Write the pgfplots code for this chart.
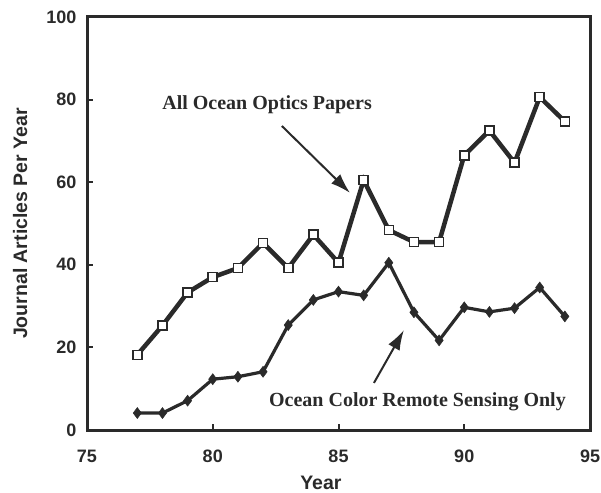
\documentclass[border=0pt]{standalone}
\usepackage{fontspec}
\setmainfont{Liberation Serif}
\setsansfont{Liberation Sans}
\usepackage{pgfplots}
\pgfplotsset{compat=1.18}
\usetikzlibrary{arrows.meta}
\definecolor{ink}{HTML}{2A2A2A}
\begin{document}
\begin{tikzpicture}
\path[use as bounding box] (0,0) rectangle (601pt,492pt);
\begin{axis}[
  at={(87pt,62pt)}, anchor=south west,
  scale only axis, width=503pt, height=413pt,
  xmin=75, xmax=95, ymin=0, ymax=100,
  xtick={75,80,85,90,95}, ytick={0,20,40,60,80,100},
  tick align=inside, xtick pos=bottom, ytick pos=left,
  major tick length=6pt,
  axis line style={line width=3pt, color=ink},
  tick style={line width=2pt, color=ink},
  /pgf/number format/assume math mode=true,
  ticklabel style={font=\sffamily\bfseries\fontsize{18}{18}\selectfont, color=ink},
  xticklabel style={anchor=base, yshift=-32pt},
  yticklabel style={anchor=east, xshift=-7pt},
  xlabel={Year},
  ylabel={Journal Articles Per Year},
  label style={font=\sffamily\bfseries\fontsize{19.5}{19.5}\selectfont, color=ink},
  xlabel style={at={(axis description cs:0.465,-0.143)}, anchor=base},
  ylabel style={at={(axis description cs:-0.119,0.5)}, anchor=base, rotate=0},
  clip=false,
]
\addplot[ink, line width=4.5pt, mark=square*, mark size=4.5pt,
  mark options={fill=white, draw=ink, line width=1.6pt}]
  coordinates {
  (77,18.2) (78,25.3) (79,33.3) (80,37) (81,39.2) (82,45.3) (83,39.2)
  (84,47.3) (85,40.5) (86,60.5) (87,48.4) (88,45.5) (89,45.5) (90,66.5)
  (91,72.5) (92,64.7) (93,80.6) (94,74.7)};
\addplot[ink, line width=3.2pt, mark=diamond*, mark size=5.5pt,
  mark options={fill=ink, draw=ink, line width=0.5pt}]
  coordinates {
  (77,4.1) (78,4.1) (79,7.1) (80,12.3) (81,12.9) (82,14.1) (83,25.4)
  (84,31.5) (85,33.5) (86,32.6) (87,40.5) (88,28.5) (89,21.7) (90,29.7)
  (91,28.6) (92,29.5) (93,34.5) (94,27.5)};
\node[anchor=base, font=\bfseries\fontsize{20}{20}\selectfont, color=ink]
  at (axis cs:82.16,77.5) {All Ocean Optics Papers};
\node[anchor=base, font=\bfseries\fontsize{20}{20}\selectfont, color=ink]
  at (axis cs:88.14,5.6) {Ocean Color Remote Sensing Only};
\draw[ink, line width=2pt, -{Latex[length=20pt,width=13pt]}]
  (axis cs:82.75,73.6) -- (axis cs:85.46,57.4);
\draw[ink, line width=2pt, -{Latex[length=20pt,width=13pt]}]
  (axis cs:86.41,11.4) -- (axis cs:87.6,24.2);
\end{axis}
\end{tikzpicture}
\end{document}
